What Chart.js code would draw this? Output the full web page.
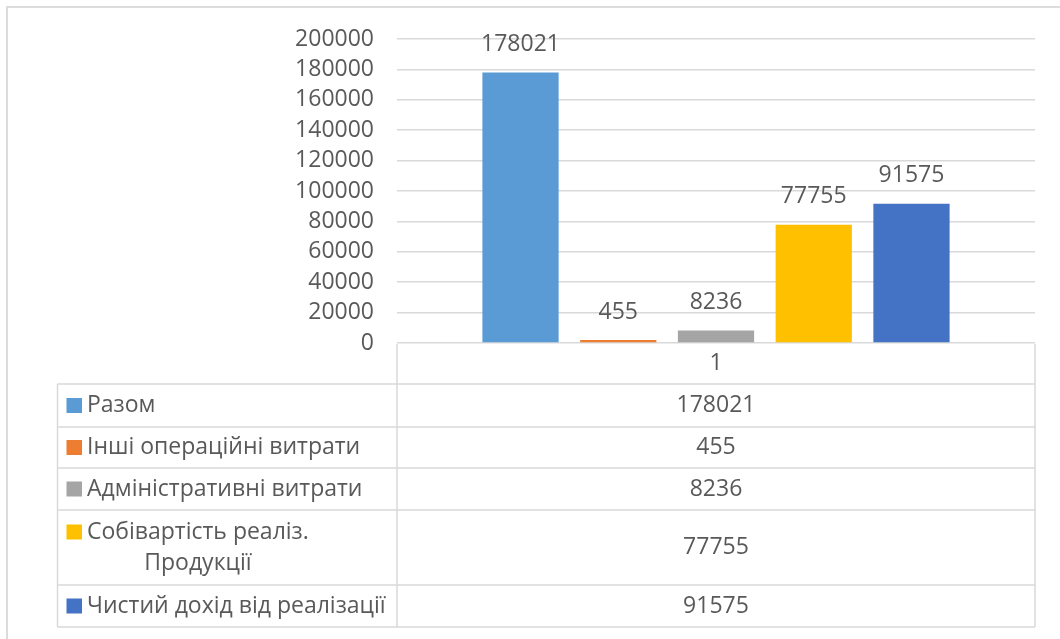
<!DOCTYPE html>
<html>
<head>
<meta charset="utf-8">
<script src="https://cdn.jsdelivr.net/npm/chart.js@4/dist/chart.umd.min.js"></script>
<style>
  html, body { margin: 0; padding: 0; background: #fff; }
  #wrap { position: relative; width: 1060px; height: 639px; }
</style>
</head>
<body>
<div id="wrap"><canvas id="chart" width="1060" height="639"></canvas></div>
<script>
// --- дані ---
const categories = ["1"];
const seriesNames = [
  "Разом",
  "Інші операційні витрати",
  "Адміністративні витрати",
  "Собівартість реаліз.\nПродукції",
  "Чистий дохід від реалізації"
];
const seriesValues = [178021, 455, 8236, 77755, 91575];
const seriesColors = ["#5B9BD5", "#ED7D31", "#A5A5A5", "#FFC000", "#4472C4"];
const yTicks = [0, 20000, 40000, 60000, 80000, 100000, 120000, 140000, 160000, 180000, 200000];

const FONT = "'Open Sans', 'Noto Sans', sans-serif";
const TEXT = "#595959";
const LINE = "#d9d9d9";

// рамка + підписи + таблиця даних
const tablePlugin = {
  id: "tablePlugin",
  beforeDraw(chart) {
    const ctx = chart.ctx;
    ctx.save();
    ctx.strokeStyle = "#dcdcdc";
    ctx.lineWidth = 2;
    ctx.beginPath();
    ctx.moveTo(7, 639);
    ctx.lineTo(7, 7);
    ctx.lineTo(1060, 7);
    ctx.stroke();
    ctx.restore();
  },
  afterDraw(chart) {
    const ctx = chart.ctx;
    const area = chart.chartArea;
    const xs = chart.scales.x;
    ctx.save();

    // підписи над стовпцями
    ctx.font = "23px " + FONT;
    ctx.fillStyle = TEXT;
    ctx.textAlign = "center";
    ctx.textBaseline = "middle";
    chart.data.datasets.forEach((ds, i) => {
      const bar = chart.getDatasetMeta(i).data[0];
      ctx.fillText(String(ds.data[0]), bar.x, bar.y - 28);
    });

    // таблиця (верхня межа - це лінія сітки на 0)
    const left = 57.5, mid = area.left, right = area.right;
    const heights = [41, 43, 41, 42, 75, 42];
    const rows = [area.bottom];
    heights.forEach(h => rows.push(rows[rows.length - 1] + h));

    ctx.strokeStyle = LINE;
    ctx.lineWidth = 1.5;
    ctx.beginPath();
    ctx.moveTo(mid, rows[0] + 1); ctx.lineTo(mid, rows[rows.length - 1]);
    ctx.moveTo(right, rows[0] + 1); ctx.lineTo(right, rows[rows.length - 1]);
    ctx.moveTo(left, rows[1]); ctx.lineTo(left, rows[rows.length - 1]);
    for (let r = 1; r < rows.length; r++) {
      ctx.moveTo(left, rows[r]); ctx.lineTo(right, rows[r]);
    }
    ctx.stroke();

    const cx = xs.getPixelForValue(0);
    ctx.fillStyle = TEXT;
    ctx.textAlign = "center";
    ctx.fillText(categories[0], cx, (rows[0] + rows[1]) / 2);

    chart.data.datasets.forEach((ds, i) => {
      const top = rows[i + 1], bot = rows[i + 2];
      const cy = (top + bot) / 2;
      const lines = ds.label.split("\n");
      const lh = 31;
      const y0 = cy - (lines.length - 1) * lh / 2;

      ctx.fillStyle = ds.backgroundColor;
      ctx.fillRect(66.5, y0 - 7.5, 15.5, 15);

      ctx.fillStyle = TEXT;
      ctx.textAlign = "left";
      const w0 = ctx.measureText(lines[0]).width;
      const tx = 87;
      lines.forEach((ln, k) => {
        const w = ctx.measureText(ln).width;
        ctx.fillText(ln, tx + (w0 - w) / 2, y0 + k * lh);
      });

      ctx.textAlign = "center";
      ctx.fillText(String(ds.data[0]), cx, cy);
    });

    ctx.restore();
  }
};

new Chart(document.getElementById("chart"), {
  type: "bar",
  data: {
    labels: categories,
    datasets: seriesNames.map((name, i) => ({
      label: name,
      data: [seriesValues[i]],
      backgroundColor: seriesColors[i],
      borderWidth: 0,
      minBarLength: 3,
      barPercentage: 0.78,
      categoryPercentage: 0.766
    }))
  },
  options: {
    responsive: false,
    animation: false,
    devicePixelRatio: 1,
    layout: { padding: { top: 39, left: 0, right: 25, bottom: 296 } },
    plugins: {
      legend: { display: false },
      tooltip: { enabled: false },
      title: { display: false }
    },
    scales: {
      x: { display: false },
      y: {
        min: 0,
        max: 200000,
        afterBuildTicks: (scale) => { scale.ticks = yTicks.map(v => ({ value: v })); },
        afterFit: (scale) => { scale.width = 397; },
        border: { display: false },
        grid: { color: LINE, lineWidth: 1.5, drawTicks: false },
        ticks: {
          autoSkip: false,
          padding: 23,
          color: TEXT,
          font: { family: FONT, size: 23 },
          callback: (v) => String(v)
        }
      }
    }
  },
  plugins: [tablePlugin]
});
</script>
</body>
</html>
